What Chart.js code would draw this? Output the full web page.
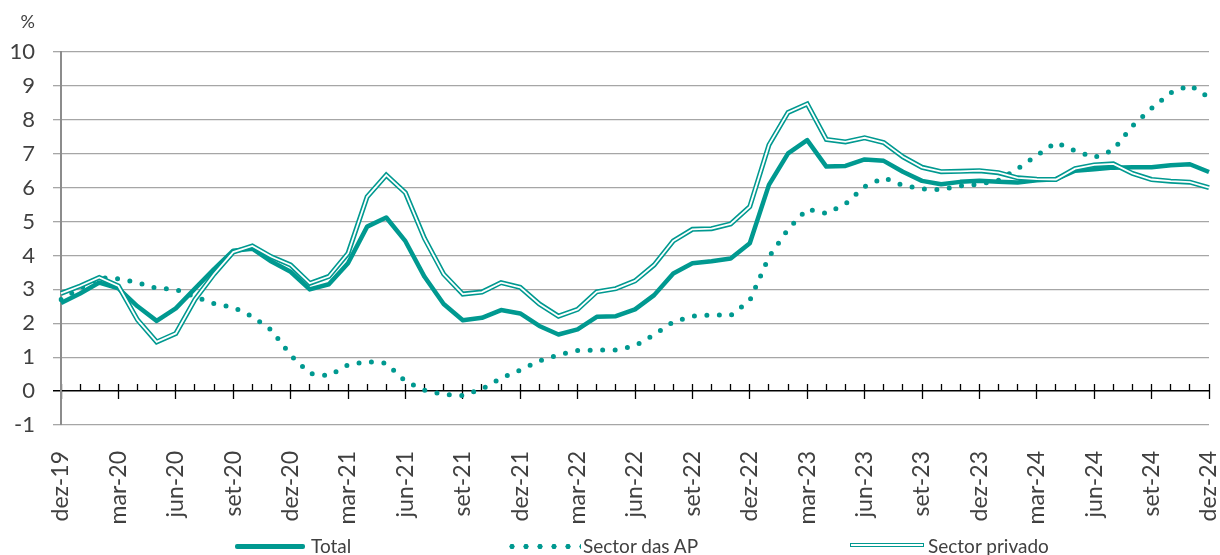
<!DOCTYPE html>
<html>
<head>
<meta charset="utf-8">
<script src="https://cdn.jsdelivr.net/npm/chart.js@4.4.1/dist/chart.umd.min.js"></script>
<style>
  body { margin: 0; background: #fff; }
  #wrap { position: relative; width: 1220px; height: 555px; font-family: Lato, sans-serif; color: #404040; }
  #unit { position: absolute; right: 1185px; top: 10px; font-size: 18px; }
  .leg { position: absolute; top: 535px; height: 22px; font-size: 19px; line-height: 22px; white-space: nowrap; }
  .sym { position: absolute; top: 11px; }
</style>
</head>
<body>
<div id="wrap">
  <canvas id="inflChart" width="1220" height="555"></canvas>
  <div id="unit">%</div>
  <div class="leg" style="left:235px;">
    <span class="sym" style="left:0; width:70px; height:5px; margin-top:-2px; background:#009990; border-radius:2px;"></span>
    <span style="position:absolute; left:76px;">Total</span>
  </div>
  <div class="leg" style="left:505px;">
    <span class="sym" style="left:0; width:76px; height:5px; margin-top:-2px; background:radial-gradient(circle, #009990 2.4px, transparent 2.8px) 0 0/14px 5px repeat-x;"></span>
    <span style="position:absolute; left:78px;">Sector das AP</span>
  </div>
  <div class="leg" style="left:850px;">
    <span class="sym" style="left:0; width:72px; height:2px; margin-top:-3px; border:1.5px solid #009990; background:#fff;"></span>
    <span style="position:absolute; left:78px;">Sector privado</span>
  </div>
</div>
<script>
// months dez-19 .. dez-24
const months = [
  'dez-19',
  'jan-20','fev-20','mar-20','abr-20','mai-20','jun-20','jul-20','ago-20','set-20','out-20','nov-20','dez-20',
  'jan-21','fev-21','mar-21','abr-21','mai-21','jun-21','jul-21','ago-21','set-21','out-21','nov-21','dez-21',
  'jan-22','fev-22','mar-22','abr-22','mai-22','jun-22','jul-22','ago-22','set-22','out-22','nov-22','dez-22',
  'jan-23','fev-23','mar-23','abr-23','mai-23','jun-23','jul-23','ago-23','set-23','out-23','nov-23','dez-23',
  'jan-24','fev-24','mar-24','abr-24','mai-24','jun-24','jul-24','ago-24','set-24','out-24','nov-24','dez-24'
];

const total = [
  2.6,
  2.88, 3.2, 3.03, 2.5, 2.07, 2.44, 3.02, 3.6, 4.14, 4.2, 3.82, 3.52,
  3.0, 3.15, 3.77, 4.85, 5.12, 4.42, 3.37, 2.57, 2.09, 2.16, 2.39, 2.29,
  1.92, 1.67, 1.82, 2.19, 2.21, 2.41, 2.83, 3.47, 3.77, 3.83, 3.91, 4.36,
  6.08, 7.01, 7.4, 6.62, 6.64, 6.83, 6.79, 6.47, 6.2, 6.1, 6.17, 6.2,
  6.17, 6.15, 6.22, 6.25, 6.5, 6.54, 6.59, 6.6, 6.6, 6.66, 6.69, 6.46
];

const sectorAP = [
  2.7,
  3.03, 3.35, 3.31, 3.2, 3.03, 3.0, 2.78, 2.58, 2.47, 2.2, 1.8, 1.06,
  0.52, 0.45, 0.77, 0.87, 0.82, 0.29, 0.03, -0.1, -0.13, 0.06, 0.38, 0.62,
  0.89, 1.07, 1.2, 1.21, 1.21, 1.33, 1.66, 2.04, 2.21, 2.25, 2.23, 2.67,
  3.96, 4.77, 5.37, 5.24, 5.52, 6.03, 6.29, 6.07, 5.96, 5.94, 6.05, 6.1,
  6.22, 6.56, 6.95, 7.33, 7.09, 6.89, 7.11, 7.82, 8.34, 8.8, 9.02, 8.66
];

const sectorPrivado = [
  2.88,
  3.1, 3.35, 3.1, 2.1, 1.45, 1.7, 2.7, 3.45, 4.1, 4.28, 3.96, 3.72,
  3.18, 3.38, 4.06, 5.73, 6.37, 5.85, 4.5, 3.45, 2.86, 2.92, 3.2, 3.06,
  2.57, 2.21, 2.41, 2.93, 3.02, 3.25, 3.72, 4.43, 4.77, 4.79, 4.93, 5.44,
  7.26, 8.22, 8.47, 7.42, 7.35, 7.47, 7.33, 6.91, 6.6, 6.47, 6.48, 6.5,
  6.44, 6.29, 6.25, 6.24, 6.56, 6.67, 6.7, 6.42, 6.24, 6.19, 6.16, 6.0
];

const yTicks = [-1, 0, 1, 2, 3, 4, 5, 6, 7, 8, 9, 10];

const TEAL = '#009990';
const GRID = '#a6a6a6';

// keep the plot area fixed: no extra room asked for by the edge labels
function noEdgePadding(s) {
    s.paddingLeft = 0;
    s.paddingRight = 0;
    s.paddingTop = 0;
    s.paddingBottom = 0;
}

function initInflChart() {
    const ctx = document.getElementById('inflChart');
    if (!ctx || !window.Chart) return;

    const lineBase = { pointRadius: 0, tension: 0, fill: false, xAxisID: 'x', yAxisID: 'y' };

    new Chart(ctx, {
        type: 'line',
        data: {
            labels: months,
            datasets: [
                // first dataset is drawn on top: white core of the double line
                Object.assign({ label: 'Sector privado (core)', data: sectorPrivado, borderColor: '#ffffff', borderWidth: 1.8 }, lineBase),
                Object.assign({ label: 'Sector privado', data: sectorPrivado, borderColor: TEAL, borderWidth: 5 }, lineBase),
                Object.assign({ label: 'Sector das AP', data: sectorAP, borderColor: TEAL, borderWidth: 5,
                    borderDash: [0, 12.5], borderCapStyle: 'round' }, lineBase),
                Object.assign({ label: 'Total', data: total, borderColor: TEAL, borderWidth: 4.5,
                    borderJoinStyle: 'round' }, lineBase)
            ]
        },
        options: {
            responsive: false,
            animation: false,
            events: [],
            layout: { padding: { top: 52, right: 11, bottom: 0, left: 0 } },
            plugins: { legend: { display: false }, tooltip: { enabled: false } },
            scales: {
                x: {
                    type: 'category',
                    position: 'bottom',
                    offset: false,
                    grid: { display: false },
                    border: { display: false },
                    ticks: {
                        autoSkip: false, maxRotation: 90, minRotation: 90, padding: 18,
                        color: '#404040', font: { family: 'Lato', size: 23 },
                        callback: (v, i) => (i % 3 === 0 ? months[i] : '')
                    },
                    afterFit: (s) => { s.height = 130; noEdgePadding(s); }
                },
                xMinor: {
                    type: 'category',
                    position: { y: 0 },
                    offset: false,
                    border: { display: false },
                    grid: { drawOnChartArea: false, tickLength: -7, tickColor: '#000', tickWidth: 1.3 },
                    ticks: { display: false, autoSkip: false },
                    afterFit: noEdgePadding
                },
                xMajor: {
                    type: 'category',
                    position: { y: 0 },
                    offset: false,
                    border: { display: false },
                    grid: {
                        drawOnChartArea: false, tickLength: 8, tickWidth: 1.3,
                        tickColor: (c) => (c.index % 3 === 0 ? '#000' : 'rgba(0,0,0,0)')
                    },
                    ticks: { display: false, autoSkip: false },
                    afterFit: noEdgePadding
                },
                y: {
                    min: -1,
                    max: 10,
                    afterBuildTicks: (s) => { s.ticks = yTicks.map(v => ({ value: v })); },
                    ticks: { padding: 18, color: '#404040', font: { family: 'Lato', size: 22 } },
                    grid: {
                        tickLength: 8,
                        lineWidth: (c) => (c.tick && c.tick.value === 0 ? 1.5 : 1.3),
                        color: (c) => (c.tick && c.tick.value === 0 ? '#000' : GRID),
                        tickColor: (c) => (c.tick && c.tick.value === 0 ? '#000' : GRID)
                    },
                    border: { color: '#8c8c8c', width: 2 },
                    afterFit: (s) => { s.width = 61; noEdgePadding(s); }
                }
            }
        }
    });
}

if (window.Chart) {
    initInflChart();
} else {
    window.addEventListener('load', initInflChart);
}
</script>
</body>
</html>
